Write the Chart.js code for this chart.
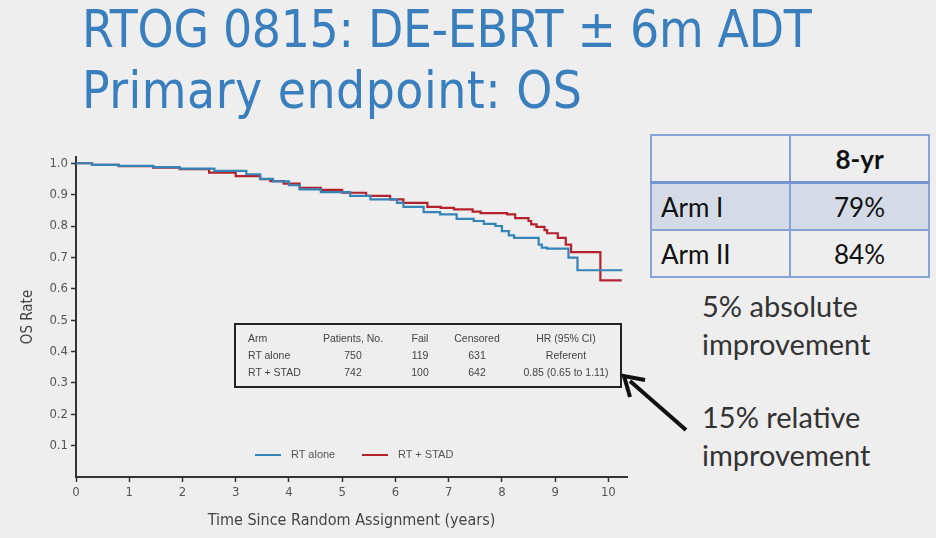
<!DOCTYPE html>
<html>
<head>
<meta charset="utf-8">
<script src="https://cdn.jsdelivr.net/npm/chart.js@4"></script>
<style>
  html, body { margin: 0; padding: 0; }
  body { width: 936px; height: 538px; background: #eeeeee; position: relative; overflow: hidden; }
  .title { position: absolute; left: 82px; color: #3a7fbd; font-family: "Liberation Sans Narrow", "DejaVu Sans Condensed", sans-serif; font-size: 51px; white-space: nowrap; }
  #chartbox { position: absolute; left: 0; top: 140px; width: 640px; height: 398px; }
  #inset { position: absolute; left: 234px; top: 323px; width: 384px; height: 61px; border: 2px solid #222; font-family: "Liberation Sans", Arial, sans-serif; font-size: 10.5px; color: #444; }
  #inset div { position: absolute; white-space: nowrap; }
  #legend { position: absolute; left: 255px; top: 448px; font-family: "Liberation Sans", Arial, sans-serif; font-size: 11px; color: #555; }
  #legend span.item { position: absolute; white-space: nowrap; top: 0; }
  #legend i { display: inline-block; width: 26px; height: 2px; vertical-align: middle; margin-right: 10px; }
  #summary { position: absolute; left: 650px; top: 134px; border-collapse: collapse; font-family: Lato, "Open Sans", sans-serif; font-size: 26px; color: #111; }
  #summary td { border: 2px solid #86a2d6; height: 45px; padding: 0; }
  #summary td.lab { width: 128px; padding-left: 9px; }
  #summary td.val { width: 137px; text-align: center; }
  #summary tr.head td { border-bottom: 3px solid #7394cf; font-weight: bold; }
  #summary tr.shade td { background: #d4dbe7; }
  .note { position: absolute; left: 702px; font-family: Lato, "Open Sans", sans-serif; font-size: 29px; color: #333; line-height: 38px; }
  svg { position: absolute; left: 0; top: 0; }
</style>
</head>
<body>
<div class="title" style="top:0px; letter-spacing:-0.3px">RTOG 0815: DE-EBRT ± 6m ADT</div>
<div class="title" style="top:61px; letter-spacing:0.5px">Primary endpoint: OS</div>

<div id="chartbox"><canvas id="km-canvas" width="640" height="398"></canvas></div>
<div id="inset"></div>
<div id="legend"></div>

<table id="summary">
  <tr class="head"><td class="lab"></td><td class="val">8-yr</td></tr>
  <tr class="shade"><td class="lab">Arm I</td><td class="val" id="arm1"></td></tr>
  <tr><td class="lab">Arm II</td><td class="val" id="arm2"></td></tr>
</table>
<div class="note" style="top:287px">5% absolute<br>improvement</div>
<div class="note" style="top:398px">15% relative<br>improvement</div>

<svg width="936" height="538">
  <line x1="686" y1="430" x2="630" y2="381" stroke="#111" stroke-width="4"/>
  <polyline points="630,397 624,376 645,380" fill="none" stroke="#111" stroke-width="4"/>
</svg>

<script>
// survival curves (years, OS rate)
const rtAloneTime = [0, 0.3, 0.8, 1.45, 1.95, 2.6, 3.2, 3.46, 3.7, 4.0, 4.2, 4.6, 5.15, 5.53, 6.03, 6.15, 6.53, 6.84, 7.15, 7.47, 7.66, 7.88, 8.0, 8.13, 8.23, 8.69, 8.75, 8.85, 9.25, 9.42, 10.26];
const rtAloneOS = [1.0, 0.995, 0.992, 0.988, 0.983, 0.976, 0.965, 0.950, 0.942, 0.930, 0.917, 0.908, 0.896, 0.885, 0.874, 0.861, 0.844, 0.837, 0.823, 0.816, 0.807, 0.800, 0.784, 0.770, 0.762, 0.741, 0.731, 0.728, 0.699, 0.659, 0.659];
const rtStadTime = [0, 0.3, 0.8, 1.45, 1.95, 2.5, 3.0, 3.46, 3.65, 3.9, 4.2, 4.6, 5.0, 5.45, 5.9, 6.15, 6.6, 6.85, 7.1, 7.45, 7.6, 8.1, 8.25, 8.5, 8.55, 8.65, 8.8, 8.85, 9.05, 9.2, 9.3, 9.85, 10.25];
const rtStadOS = [1.0, 0.995, 0.991, 0.986, 0.981, 0.970, 0.959, 0.949, 0.943, 0.935, 0.922, 0.915, 0.906, 0.896, 0.885, 0.874, 0.861, 0.858, 0.853, 0.846, 0.841, 0.837, 0.825, 0.816, 0.805, 0.797, 0.787, 0.777, 0.762, 0.741, 0.717, 0.627, 0.627];

const xTicks = [0, 1, 2, 3, 4, 5, 6, 7, 8, 9, 10];
const yTicks = [0.1, 0.2, 0.3, 0.4, 0.5, 0.6, 0.7, 0.8, 0.9, 1.0];

// inset table
const armNames = ["RT alone", "RT + STAD"];
const patients = [750, 742];
const fails = [119, 100];
const censored = [631, 642];
const hrText = ["Referent", "0.85 (0.65 to 1.11)"];

// right-hand summary
const eightYr = ["79%", "84%"];

const blue = "#3584b8";
const red = "#b3222d";

function toPoints(ts, vs) {
  return ts.map((t, i) => ({ x: t, y: vs[i] }));
}

const axisFont = { family: "'Liberation Sans Narrow', 'DejaVu Sans Condensed', sans-serif" };

const cfg = {
  type: "line",
  data: {
    datasets: [
      { label: armNames[0], data: toPoints(rtAloneTime, rtAloneOS), borderColor: blue, borderWidth: 2.2, stepped: true, pointRadius: 0, fill: false },
      { label: armNames[1], data: toPoints(rtStadTime, rtStadOS), borderColor: red, borderWidth: 2.2, stepped: true, pointRadius: 0, fill: false }
    ]
  },
  options: {
    responsive: false,
    animation: false,
    layout: { padding: { top: 17, right: 13, left: 0, bottom: 0 } },
    plugins: { legend: { display: false }, tooltip: { enabled: false } },
    scales: {
      x: {
        type: "linear",
        min: 0,
        max: 10.35,
        grid: { drawOnChartArea: false, color: "#333", tickLength: 5, tickWidth: 1.5 },
        border: { color: "#333", width: 2 },
        ticks: { color: "#555", font: Object.assign({ size: 13 }, axisFont), padding: 3, autoSkip: false },
        afterBuildTicks: s => { s.ticks = xTicks.map(v => ({ value: v })); },
        afterFit: s => { s.height = 61; },
        title: { display: true, text: "Time Since Random Assignment (years)", color: "#444", font: Object.assign({ size: 16 }, axisFont), padding: { bottom: 8 } }
      },
      y: {
        min: 0,
        max: 1.02,
        grid: { drawOnChartArea: false, color: "#333", tickLength: 5, tickWidth: 1.5 },
        border: { color: "#333", width: 2 },
        ticks: { color: "#555", font: Object.assign({ size: 13 }, axisFont), padding: 3, callback: v => v.toFixed(1) },
        afterBuildTicks: s => { s.ticks = yTicks.map(v => ({ value: v })); },
        afterFit: s => { s.width = 76; },
        title: { display: true, text: "OS Rate", color: "#444", font: Object.assign({ size: 15 }, axisFont), padding: { top: 19 } }
      }
    }
  }
};

const chartObj = new Chart(document.getElementById("km-canvas").getContext("2d"), cfg);

// inset table with arm numbers
const inset = document.getElementById("inset");
const cols = [
  { x: 12, align: "left", head: "Arm", vals: armNames },
  { x: 117, align: "center", head: "Patients, No.", vals: patients },
  { x: 184, align: "center", head: "Fail", vals: fails },
  { x: 241, align: "center", head: "Censored", vals: censored },
  { x: 330, align: "center", head: "HR (95% CI)", vals: hrText }
];
cols.forEach(c => {
  [c.head].concat(c.vals).forEach((txt, r) => {
    const d = document.createElement("div");
    d.textContent = txt;
    d.style.top = (7 + r * 17) + "px";
    if (c.align === "left") {
      d.style.left = c.x + "px";
    } else {
      d.style.left = (c.x - 60) + "px";
      d.style.width = "120px";
      d.style.textAlign = "center";
    }
    inset.appendChild(d);
  });
});

// legend from datasets
const legend = document.getElementById("legend");
chartObj.data.datasets.forEach((ds, i) => {
  const s = document.createElement("span");
  s.className = "item";
  s.style.left = (i * 107) + "px";
  s.innerHTML = '<i style="background:' + ds.borderColor + '"></i>' + ds.label;
  legend.appendChild(s);
});

document.getElementById("arm1").textContent = eightYr[0];
document.getElementById("arm2").textContent = eightYr[1];
</script>
</body>
</html>
